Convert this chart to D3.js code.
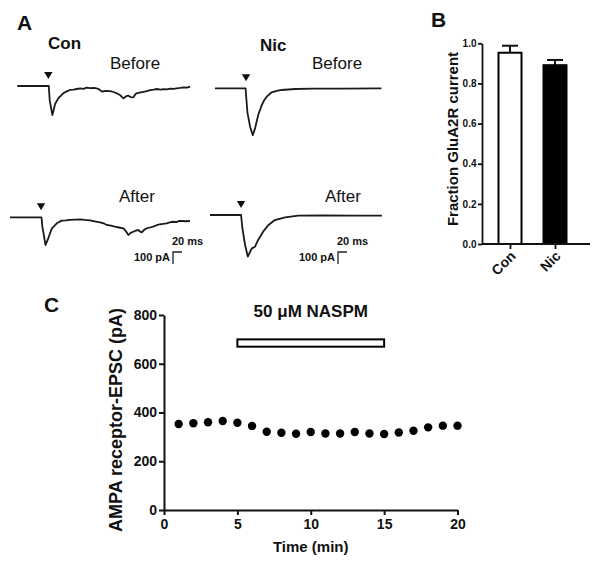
<!DOCTYPE html>
<html><head><meta charset="utf-8">
<script src="https://cdn.jsdelivr.net/npm/d3@7"></script>
<style>body{margin:0;background:#fff}svg{display:block}text{font-family:"Liberation Sans",Arial,sans-serif;fill:#111}</style>
</head><body>
<script>
// ---------- Panel A: example traces [time ms, current pA] ----------
const conBefore = [[0,0],[62,0],[70,0],[72,-120],[78,-242],[84,-150],[91,-103],[102,-61],[110,-45],[117,-33],[125,-30],[132,-25],[140,-20],[147,-24],[154,-14],[162,-18],[170,-15],[176,-19],[182,-28],[188,-47],[196,-40],[206,-42],[214,-50],[221,-61],[228,-75],[236,-103],[242,-85],[247,-81],[252,-92],[258,-94],[262,-70],[265,-61],[272,-55],[280,-48],[288,-42],[295,-35],[303,-30],[310,-25],[318,-30],[325,-26],[332,-28],[340,-22],[347,-24],[354,-19],[362,-16],[370,-12],[377,-14],[384,-6]];
const conAfter = [[0,0],[63,0],[70,0],[72,-80],[79,-231],[85,-175],[93,-92],[104,-50],[115,-28],[124,-26],[133,-22],[144,-20],[156,-17],[166,-22],[178,-25],[188,-33],[200,-42],[208,-50],[215,-64],[224,-70],[233,-78],[242,-85],[252,-92],[258,-118],[263,-148],[268,-130],[274,-120],[280,-110],[285,-106],[289,-120],[293,-125],[298,-105],[304,-92],[311,-85],[318,-78],[326,-66],[333,-58],[340,-55],[348,-50],[355,-42],[363,-37],[370,-40],[376,-30],[382,-31],[390,-33],[400,-31]];
const nicBefore = [[0,0],[61,0],[68,0],[69,-56],[72,-200],[78,-320],[84,-390],[89,-334],[96,-223],[104,-139],[110,-95],[115,-70],[126,-33],[137,-22],[148,-14],[178,-6],[220,-3],[280,-2],[370,0]];
const nicAfter = [[0,0],[63,0],[69,0],[72,-111],[78,-250],[84,-347],[90,-300],[93,-278],[100,-264],[107,-208],[118,-139],[130,-83],[144,-42],[167,-19],[196,-6],[250,-4],[320,-5],[382,-6]];
const stimTime = 69;            // ms, arrowhead
const scaleBarMs = 20, scaleBarPA = 100;

// ---------- Panel B ----------
const bCategories = ["Con", "Nic"];
const bValues = [0.953, 0.891];
const bErrors = [0.035, 0.026];
const bTicks = [0.0, 0.2, 0.4, 0.6, 0.8, 1.0];

// ---------- Panel C ----------
const cTimes = [1,2,3,4,5,6,7,8,9,10,11,12,13,14,15,16,17,18,19,20];
const cValues = [353,356,360,365,358,345,321,317,313,320,314,314,320,314,312,318,325,339,346,346];
const cXTicks = [0,5,10,15,20];
const cYTicks = [0,200,400,600,800];
const naspmWindow = [5, 15];
const naspmBand = [670, 700];

const svg = d3.select("body").append("svg").attr("width",600).attr("height",565);
svg.append("rect").attr("width",600).attr("height",565).attr("fill","#fff");

// ===== Panel A =====
const pxPerMs = 0.45, pxPerPA = 0.12;
function drawTrace(data, x0, y0, tMax, label, labelX, labelY, title, titleX, titleY, scaleBarX){
  const x = d3.scaleLinear().domain([0,tMax]).range([x0, x0+tMax*pxPerMs]);
  const y = d3.scaleLinear().domain([0,-400]).range([y0, y0+400*pxPerPA]);
  const g = svg.append("g");
  g.append("path").datum(data).attr("fill","none").attr("stroke","#1a1a1a")
    .attr("stroke-width",1.8).attr("stroke-linejoin","round")
    .attr("d", d3.line().x(d=>x(d[0])).y(d=>y(d[1])));
  const ax = x(stimTime), ay = y0 - 7;
  g.append("path").attr("d",`M${ax-4.2},${ay-7}L${ax+4.2},${ay-7}L${ax},${ay}Z`).attr("fill","#111");
  g.append("text").attr("x",labelX).attr("y",labelY).attr("font-size",17).text(label);
  if (title) g.append("text").attr("x",titleX).attr("y",titleY).attr("font-size",17).attr("font-weight","bold").text(title);
  if (scaleBarX !== null){
    const sbTop = 252;
    const sx = d3.scaleLinear().domain([0,scaleBarMs]).range([scaleBarX, scaleBarX+scaleBarMs*pxPerMs]);
    const sy = d3.scaleLinear().domain([0,scaleBarPA]).range([sbTop, sbTop+scaleBarPA*pxPerPA]);
    g.append("path").attr("fill","none").attr("stroke","#222").attr("stroke-width",1.3)
      .attr("d",`M${sx(scaleBarMs)},${sy(0)}L${sx(0)},${sy(0)}L${sx(0)},${sy(scaleBarPA)}`);
    g.append("text").attr("x",sx(0)-1).attr("y",245).attr("font-size",11).attr("font-weight","bold").text(scaleBarMs+" ms");
    g.append("text").attr("x",sx(0)-3).attr("y",261).attr("text-anchor","end").attr("font-size",11).attr("font-weight","bold").text(scaleBarPA+" pA");
  }
}
svg.append("text").attr("x",17).attr("y",30).attr("font-size",21).attr("font-weight","bold").text("A");
drawTrace(conBefore, 17.3, 86, 384, "Before", 110, 69, "Con", 48, 49, null);
drawTrace(nicBefore, 215, 88.3, 370, "Before", 312, 69, "Nic", 260, 51, null);
drawTrace(conAfter, 10, 217.3, 400, "After", 119, 202, null, 0, 0, 173);
drawTrace(nicAfter, 210, 215, 382, "After", 325, 202, null, 0, 0, 338);

// ===== Panel B =====
{
  const axX = 482, y = d3.scaleLinear().domain([0,1]).range([244,43.3]);
  const x = d3.scalePoint().domain(bCategories).range([510,555]);
  const g = svg.append("g");
  svg.append("text").attr("x",431).attr("y",27).attr("font-size",21).attr("font-weight","bold").text("B");
  const barW = 23;
  bCategories.forEach((c,i)=>{
    const cx = x(c);
    g.append("line").attr("x1",cx).attr("x2",cx).attr("y1",y(bValues[i])).attr("y2",y(bValues[i]+bErrors[i])).attr("stroke","#111").attr("stroke-width",2);
    g.append("line").attr("x1",cx-8).attr("x2",cx+8).attr("y1",y(bValues[i]+bErrors[i])).attr("y2",y(bValues[i]+bErrors[i])).attr("stroke","#111").attr("stroke-width",2);
  });
  g.selectAll("rect.bar").data(bCategories).enter().append("rect")
    .attr("x",c=>x(c)-barW/2).attr("width",barW)
    .attr("y",(c,i)=>y(bValues[i])).attr("height",(c,i)=>y(0)-y(bValues[i]))
    .attr("fill",(c,i)=>i===0?"#fff":"#000").attr("stroke","#000").attr("stroke-width",2);
  const yAx = g.append("g").attr("transform",`translate(${axX},0)`)
    .call(d3.axisLeft(y).tickValues(bTicks).tickFormat(d3.format(".1f")).tickSize(4).tickSizeOuter(0).tickPadding(1.5));
  yAx.selectAll("path,line").attr("stroke","#111").attr("stroke-width",1.8);
  yAx.selectAll("text").attr("font-size",10).attr("font-weight","bold").attr("fill","#111")
    .style("font-family","'Liberation Sans',Arial,sans-serif");
  g.append("line").attr("x1",axX).attr("x2",590).attr("y1",y(0)).attr("y2",y(0)).attr("stroke","#111").attr("stroke-width",1.8);
  const xAx = g.append("g").attr("transform",`translate(0,${y(0)})`)
    .call(d3.axisBottom(x).tickSize(5).tickSizeOuter(0));
  xAx.select(".domain").remove();
  xAx.selectAll("line").attr("stroke","#111").attr("stroke-width",1.8);
  xAx.selectAll("text").attr("font-size",14).attr("font-weight","bold").attr("fill","#111")
    .style("font-family","'Liberation Sans',Arial,sans-serif")
    .attr("text-anchor","end").attr("dy",null).attr("y",null)
    .attr("transform","translate(6,13) rotate(-45)");
  svg.append("text").attr("transform","translate(458,139) rotate(-90)").attr("text-anchor","middle")
    .attr("font-size",15).attr("font-weight","bold").text("Fraction GluA2R current");
}

// ===== Panel C =====
{
  const x = d3.scaleLinear().domain([0,20]).range([164,457.5]);
  const y = d3.scaleLinear().domain([0,800]).range([510,315]);
  const g = svg.append("g");
  svg.append("text").attr("x",44).attr("y",312).attr("font-size",21).attr("font-weight","bold").text("C");
  const yAx = g.append("g").attr("transform","translate(164,0)")
    .call(d3.axisLeft(y).tickValues(cYTicks).tickSize(5).tickSizeOuter(0).tickPadding(2));
  const xAx = g.append("g").attr("transform","translate(0,510)")
    .call(d3.axisBottom(x).tickValues(cXTicks).tickSize(5).tickSizeOuter(0).tickPadding(4));
  [yAx,xAx].forEach(a=>{
    a.selectAll("path,line").attr("stroke","#111").attr("stroke-width",2);
    a.selectAll("text").attr("font-size",14).attr("font-weight","bold").attr("fill","#111")
      .style("font-family","'Liberation Sans',Arial,sans-serif");
  });
  g.selectAll("circle").data(cTimes).enter().append("circle")
    .attr("cx",d=>x(d)).attr("cy",(d,i)=>y(cValues[i])).attr("r",4.2).attr("fill","#000");
  g.append("rect").attr("x",x(naspmWindow[0])).attr("width",x(naspmWindow[1])-x(naspmWindow[0]))
    .attr("y",y(naspmBand[1])).attr("height",y(naspmBand[0])-y(naspmBand[1]))
    .attr("fill","#fff").attr("stroke","#000").attr("stroke-width",2);
  g.append("text").attr("x",x(10)).attr("y",317).attr("text-anchor","middle").attr("font-size",17)
    .attr("font-weight","bold").text("50 μM NASPM");
  g.append("text").attr("x",x(10)).attr("y",552).attr("text-anchor","middle").attr("font-size",15)
    .attr("font-weight","bold").text("Time (min)");
  svg.append("text").attr("transform","translate(122,420) rotate(-90)").attr("text-anchor","middle")
    .attr("font-size",18).attr("font-weight","bold").text("AMPA receptor-EPSC (pA)");
}
</script>
</body></html>
